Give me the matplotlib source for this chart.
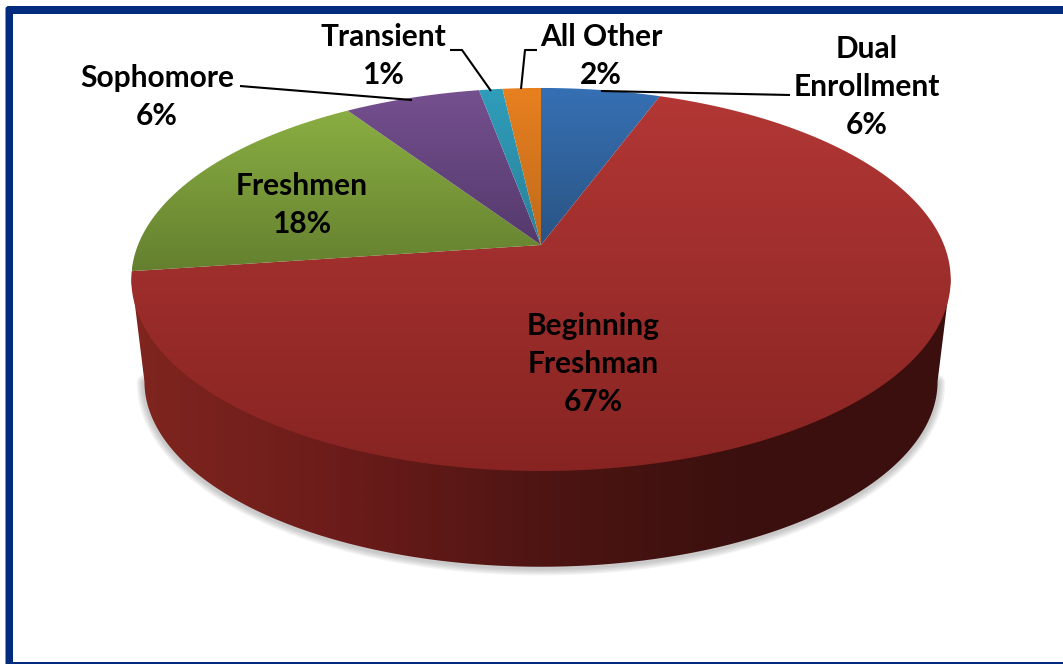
"""
Perspective 3D pie of enrollment by student type.
"""
import matplotlib
matplotlib.use('Agg')
import matplotlib.pyplot as plt
from matplotlib.colors import LinearSegmentedColormap
from matplotlib.patches import FancyBboxPatch, Polygon, Rectangle
import numpy as np

# Data, clockwise from 12 o'clock (estimated from the slice edges)
categories = ['Dual\nEnrollment', 'Beginning\nFreshman', 'Freshmen', 'Sophomore', 'Transient', 'All Other']
values = [5.6, 67.2, 17.9, 6.4, 1.1, 1.8]

# Top face gradients (light at the back, darker at the front)
top_colors = ['#3670b4', '#b23735', '#8aae42', '#75508f', '#2f9dbb', '#e8801f']
low_colors = ['#2a5483', '#872422', '#64802f', '#54396c', '#2a8199', '#bf6a1c']
wall_colors = ['#80251f', '#6c1c1a', '#4e1513', '#3a100e', '#3a0f0d']
label_xy = [(867, 87), (593, 364), (302, 205), (157, 97), (383, 56), (601, 56)]

# Leader lines, label side first
leaders = [
    [(790, 95), (601, 91)],
    None,
    None,
    [(240, 86), (412, 100)],
    [(450, 50), (462, 50), (491, 91)],
    [(537, 50), (525, 50), (521, 89)],
]

NAVY = '#012b7c'

# Projection of the tilted disc: apex of the slices and perspective strength
CX, APEX_Y, LOWER_APEX_Y = 541, 245, 348
A, B, K = 403.0, 185.3, 0.18
LOWER_SCALE = 0.968


def rim(theta, scale=1.0, apex_y=APEX_Y):
    """Image position of the disc edge, theta clockwise from the back."""
    d = 1 + K * np.cos(theta)
    return CX + scale * A * np.sin(theta) / d, apex_y - scale * B * np.cos(theta) / d


def shaded(ax, poly, colors, horizontal=False):
    """Fill a polygon with a linear gradient clipped to it."""
    x0, y0 = poly.min(axis=0)
    x1, y1 = poly.max(axis=0)
    cmap = LinearSegmentedColormap.from_list('g', colors)
    ramp = np.linspace(0, 1, 256)
    ramp = ramp[None, :] if horizontal else ramp[:, None]
    img = ax.imshow(ramp, cmap=cmap, extent=(x0, x1, y1, y0), origin='upper',
                    aspect='auto', interpolation='bilinear', zorder=3)
    patch = Polygon(poly, closed=True, transform=ax.transData, facecolor='none', edgecolor='none')
    ax.add_patch(patch)
    img.set_clip_path(patch)


fig = plt.figure(figsize=(10.63, 6.64), dpi=100, facecolor='white')
ax = fig.add_axes([0, 0, 1, 1])
ax.axis('off')

# Frame, open on the right
ax.add_patch(FancyBboxPatch((10, 10.5), 1120, 700, boxstyle='round,pad=4.5,rounding_size=3',
                            facecolor=NAVY, edgecolor='none', zorder=0))
ax.add_patch(Rectangle((13, 13.5), 1060, 648, facecolor='white', edgecolor='none', zorder=1))

# Soft shadow below the wall
front = np.linspace(np.arccos(-K), 2 * np.pi - np.arccos(-K), 300)
lx, ly = rim(front, LOWER_SCALE, LOWER_APEX_Y)
for lw in [11, 9, 7, 5, 3]:
    ax.plot(lx, ly + 1, color='#555555', lw=lw, alpha=0.07, zorder=2, solid_capstyle='round')

# Side wall, its upper edge tucked a little under the top face
ux, uy = rim(front)
wall = np.vstack([np.column_stack([ux, uy - 4]), np.column_stack([lx, ly])[::-1]])
shaded(ax, wall, wall_colors, horizontal=True)

# Top faces
edges = np.cumsum([0] + values) / sum(values) * 2 * np.pi
for i in range(len(values)):
    th = np.linspace(edges[i], edges[i + 1], 200)
    sx, sy = rim(th)
    poly = np.vstack([[CX, APEX_Y], np.column_stack([sx, sy])])
    shaded(ax, poly, [top_colors[i], low_colors[i]])

# Leader lines
for pts in leaders:
    if pts is not None:
        xs, ys = zip(*pts)
        ax.plot(xs, ys, color='black', lw=1.5, zorder=5, solid_capstyle='butt')

# Labels
for cat, val, (x, y) in zip(categories, values, label_xy):
    ax.text(x, y, f'{cat}\n{val:.0f}%', ha='center', va='center', multialignment='center',
            family=['Lato', 'DejaVu Sans'], fontweight='bold', fontsize=21.5, linespacing=1.44,
            color='black', zorder=6)

ax.set_xlim(0, 1063)
ax.set_ylim(664, 0)
fig.savefig('out.png', dpi=100, facecolor='white')
